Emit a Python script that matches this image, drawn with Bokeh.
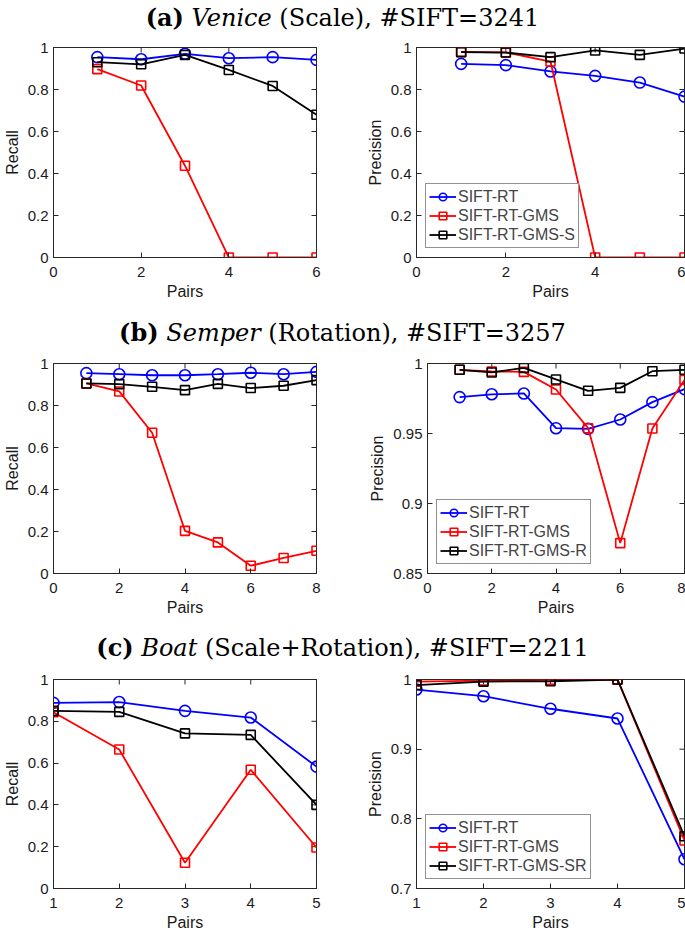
import math
from bokeh.plotting import figure
from bokeh.models import Range1d, FixedTicker, Legend, LegendItem, Div
from bokeh.layouts import column, row
from bokeh.embed import file_html
from bokeh.resources import INLINE

# ---------------- data ----------------
titles = [
    ("(a)", "Venice", " (Scale), #SIFT=3241"),
    ("(b)", "Semper", " (Rotation), #SIFT=3257"),
    ("(c)", "Boat", " (Scale+Rotation), #SIFT=2211"),
]
series_labels_a = ["SIFT-RT", "SIFT-RT-GMS", "SIFT-RT-GMS-S"]
series_labels_b = ["SIFT-RT", "SIFT-RT-GMS", "SIFT-RT-GMS-R"]
series_labels_c = ["SIFT-RT", "SIFT-RT-GMS", "SIFT-RT-GMS-SR"]

pairs_a = [1, 2, 3, 4, 5, 6]
recall_a_rt = [0.954, 0.944, 0.970, 0.949, 0.954, 0.941]
recall_a_gms = [0.897, 0.819, 0.437, 0.0, 0.0, 0.0]
recall_a_gmss = [0.930, 0.920, 0.965, 0.893, 0.817, 0.680]
prec_a_rt = [0.922, 0.916, 0.886, 0.865, 0.833, 0.766]
prec_a_gms = [0.979, 0.977, 0.933, 0.0, 0.0, 0.0]
prec_a_gmss = [0.978, 0.976, 0.954, 0.986, 0.965, 0.995]

pairs_b = [1, 2, 3, 4, 5, 6, 7, 8]
recall_b_rt = [0.954, 0.949, 0.944, 0.944, 0.949, 0.956, 0.949, 0.960]
recall_b_gms = [0.905, 0.867, 0.670, 0.203, 0.148, 0.037, 0.074, 0.108]
recall_b_gmsr = [0.905, 0.902, 0.889, 0.873, 0.903, 0.883, 0.894, 0.921]
prec_b_rt = [0.976, 0.978, 0.9786, 0.9538, 0.9533, 0.960, 0.9724, 0.9817]
prec_b_gms = [0.9955, 0.9943, 0.994, 0.9814, 0.9538, 0.8717, 0.9536, 0.9883]
prec_b_gmsr = [0.9955, 0.9936, 0.9969, 0.9886, 0.9805, 0.9826, 0.9945, 0.9955]

pairs_c = [1, 2, 3, 4, 5]
recall_c_rt = [0.888, 0.892, 0.850, 0.818, 0.583]
recall_c_gms = [0.843, 0.665, 0.123, 0.568, 0.196]
recall_c_gmssr = [0.850, 0.845, 0.742, 0.735, 0.400]
prec_c_rt = [0.9856, 0.976, 0.958, 0.944, 0.742]
prec_c_gms = [0.997, 0.9985, 0.9995, 0.9998, 0.769]
prec_c_gmssr = [0.992, 0.997, 0.9975, 1.0, 0.775]

xticks_a = [0, 2, 4, 6]
xticks_b = [0, 2, 4, 6, 8]
xticks_c = [1, 2, 3, 4, 5]
yticks_unit = [0, 0.2, 0.4, 0.6, 0.8, 1]
ylabels_unit = ["0", "0.2", "0.4", "0.6", "0.8", "1"]
yticks_prec_b = [0.85, 0.9, 0.95, 1]
ylabels_prec_b = ["0.85", "0.9", "0.95", "1"]
yticks_prec_c = [0.7, 0.8, 0.9, 1]
ylabels_prec_c = ["0.7", "0.8", "0.9", "1"]

colors = ["#0000ff", "#ff0000", "#000000"]
markers = ["circle", "square", "square"]
msizes = [11, 9, 9]

TICK_FONT = "Liberation Sans"
INK = "#262626"


def style_axis(ax, ticks, labels, tick_standoff, label_standoff):
    ax.ticker = FixedTicker(ticks=ticks)
    ax.major_label_overrides = {t: l for t, l in zip(ticks, labels)}
    ax.major_tick_in = 5
    ax.major_tick_out = 0
    ax.minor_tick_in = 0
    ax.minor_tick_out = 0
    ax.axis_line_color = INK
    ax.major_tick_line_color = INK
    ax.major_label_text_font = TICK_FONT
    ax.major_label_text_color = "#1a1a1a"
    ax.major_label_text_font_size = "15px"
    ax.major_label_standoff = tick_standoff
    ax.axis_label_text_font = TICK_FONT
    ax.axis_label_text_font_size = "16px"
    ax.axis_label_text_font_style = "normal"
    ax.axis_label_text_color = "#1a1a1a"
    ax.axis_label_standoff = label_standoff


def make_fig(x, ys, names, xr, xt, yr, yt, ylab, ylabel, w, h, bl, br, bt, bb,
             legend=False):
    p = figure(width=w, height=h, output_backend="svg", toolbar_location=None,
               x_range=Range1d(*xr), y_range=Range1d(*yr),
               min_border_left=bl, min_border_right=br,
               min_border_top=bt, min_border_bottom=bb)
    p.xgrid.visible = False
    p.ygrid.visible = False
    p.outline_line_color = INK
    p.outline_line_width = 1
    p.background_fill_color = "white"
    p.border_fill_color = "white"
    p.xaxis.axis_label = "Pairs"
    p.yaxis.axis_label = ylabel
    style_axis(p.xaxis[0], xt, [str(v) for v in xt], 9, 3)
    style_axis(p.yaxis[0], yt, ylab, 5, 4)
    # mirrored inward ticks on top and right edges (half clipped by the frame)
    p.scatter(xt, [yr[1]] * len(xt), marker="dash", angle=math.pi / 2, size=10,
              line_color=INK, line_width=1)
    p.scatter([xr[1]] * len(yt), yt, marker="dash", size=10,
              line_color=INK, line_width=1)
    items = []
    for y, name, c, m, s in zip(ys, names, colors, markers, msizes):
        lr = p.line(x, y, line_color=c, line_width=1.8)
        sr = p.scatter(x, y, marker=m, size=s, line_color=c, fill_color=None,
                       line_width=1.6)
        items.append(LegendItem(label=name, renderers=[lr, sr]))
    if legend:
        lg = Legend(items=items, location=(9, 9), margin=0, padding=3, spacing=0,
                    label_text_font=TICK_FONT, label_text_font_size="16px",
                    label_height=19, glyph_width=27, glyph_height=19,
                    label_standoff=2, border_line_color=INK, border_line_width=1,
                    background_fill_color="white", background_fill_alpha=1)
        p.add_layout(lg)
    return p


def make_title(parts, h, pad):
    b, i, rest = parts
    html = ('<div style="width:685px;height:%dpx;padding-top:%dpx;box-sizing:border-box;'
            'text-align:center;font-family:\'DejaVu Serif\';font-size:24px;line-height:26px;'
            'white-space:nowrap;color:#000"><b>%s</b> <i>%s</i>%s</div>' % (h, pad, b, i, rest))
    return Div(text=html, width=685, height=h, margin=0)


# Row (a)
pa1 = make_fig(pairs_a, [recall_a_rt, recall_a_gms, recall_a_gmss], series_labels_a,
               (0, 6), xticks_a, (0, 1), yticks_unit, ylabels_unit, "Recall",
               330, 276, 53, 14, 11, 55)
pa2 = make_fig(pairs_a, [prec_a_rt, prec_a_gms, prec_a_gmss], series_labels_a,
               (0, 6), xticks_a, (0, 1), yticks_unit, ylabels_unit, "Precision",
               355, 276, 86, 1, 11, 55, legend=True)
# Row (b)
pb1 = make_fig(pairs_b, [recall_b_rt, recall_b_gms, recall_b_gmsr], series_labels_b,
               (0, 8), xticks_b, (0, 1), yticks_unit, ylabels_unit, "Recall",
               330, 274, 53, 14, 11, 53)
pb2 = make_fig(pairs_b, [prec_b_rt, prec_b_gms, prec_b_gmsr], series_labels_b,
               (0, 8), xticks_b, (0.85, 1), yticks_prec_b, ylabels_prec_b, "Precision",
               355, 274, 97, 1, 11, 53, legend=True)
# Row (c)
pc1 = make_fig(pairs_c, [recall_c_rt, recall_c_gms, recall_c_gmssr], series_labels_c,
               (1, 5), xticks_c, (0, 1), yticks_unit, ylabels_unit, "Recall",
               330, 267, 53, 14, 11, 47)
pc2 = make_fig(pairs_c, [prec_c_rt, prec_c_gms, prec_c_gmssr], series_labels_c,
               (1, 5), xticks_c, (0.7, 1), yticks_prec_c, ylabels_prec_c, "Precision",
               355, 267, 86, 1, 11, 47, legend=True)

ta = make_title(titles[0], 36, 5)
tb = make_title(titles[1], 40, 8)
tc = make_title(titles[2], 42, 9)

layout = column(ta, row(pa1, pa2, spacing=0), tb, row(pb1, pb2, spacing=0),
                tc, row(pc1, pc2, spacing=0), spacing=0)

open("out.html", "w").write(file_html(layout, INLINE))
